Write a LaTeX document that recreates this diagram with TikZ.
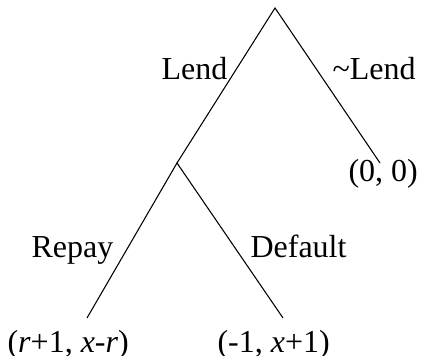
\documentclass[tikz,border=0pt]{standalone}
\usepackage{fontspec}
\setmainfont{Liberation Serif}
\usetikzlibrary{positioning}
\tikzset{edge/.style={draw, line width=0.4pt},
  lbl/.style={inner sep=0pt, anchor=base west, font=\fontsize{12}{14}\selectfont}}

\begin{document}
\begin{tikzpicture}[x=0.375pt, y=-0.375pt]
  \useasboundingbox (0,0) rectangle (422,356);
  % decision points and ends of the branches
  \coordinate (root) at (275,8);
  \coordinate (brw) at (177,163);
  \coordinate (nolend) at (380,163);
  \coordinate (rep) at (87,318);
  \coordinate (dfl) at (283,318);
  \draw[edge] (brw) -- (root) -- (nolend);
  \draw[edge] (rep) -- (brw) -- (dfl);
  % move labels
  \node[lbl] (lend) at (161,80) {Lend};
  \node[lbl] (nlend) at (332,80) {\textasciitilde Lend};
  \node[lbl] (repay) at (31,258) {Repay};
  \node[lbl] (default) at (250,258) {Default};
  % payoffs
  \node[lbl] (pay0) at (348,182) {(0, 0)};
  \node[lbl] (payr) at (7,352) {(\textit{r}+1, \textit{x}-\textit{r})};
  \node[lbl] (payd) at (217,352) {(-1, \textit{x}+1)};
\end{tikzpicture}
\end{document}
